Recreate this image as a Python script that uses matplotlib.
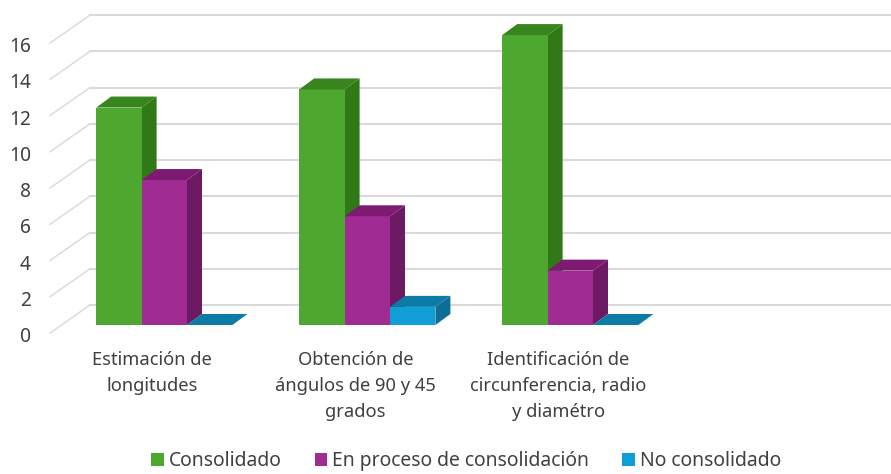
import numpy as np
import matplotlib
matplotlib.use('Agg')
import matplotlib.pyplot as plt
from matplotlib.patches import Polygon, Patch

# Datos
categorias = ['Estimación de\nlongitudes',
              'Obtención de\nángulos de 90 y 45\ngrados',
              'Identificación de\ncircunferencia, radio\ny diamétro']
series = ['Consolidado', 'En proceso de consolidación', 'No consolidado']
consolidado = [12, 13, 16]
en_proceso = [8, 6, 3]
no_consolidado = [0, 1, 0]
y_ticks = [0, 2, 4, 6, 8, 10, 12, 14, 16]

# colores: frente, lateral, tapa
colores = [('#4EA72E', '#2F7A17', '#38851E'),
           ('#A02B93', '#6C1A64', '#7E1A72'),
           ('#0F9ED5', '#0B6F96', '#0C7BA6')]

W, H = 891, 474
PX_X = 203.0    # pixeles por categoria
PX_Y = 18.12    # pixeles por unidad
CENTRO = 164.3  # pixel del centro del primer grupo
Y0 = 325.0      # pixel del cero al frente

plt.rcParams['font.family'] = 'Noto Sans'
fig = plt.figure(figsize=(W / 100, H / 100), dpi=100)
ax = fig.add_axes([50 / W, 1 - Y0 / H, (W - 50) / W, Y0 / H])
ax.set_xlim((50 - CENTRO) / PX_X, (W - CENTRO) / PX_X)
ax.set_ylim(0, Y0 / PX_Y)
for s in ax.spines.values():
    s.set_visible(False)

ancho = 45.4 / PX_X
# profundidad de las barras y de la pared
dx_bar, dy_bar = 15 / PX_X, 11 / PX_Y
x_pared = (90 - CENTRO) / PX_X
x_frente = (50 - CENTRO) / PX_X
dy_pared = 20 / PX_Y
dy_frente = -8 / PX_Y
dy_etiqueta = -12 / PX_Y

# rejilla de la pared del fondo
for v in y_ticks:
    ax.plot([x_pared, ax.get_xlim()[1]], [v + dy_pared, v + dy_pared],
            color='#D9D9D9', lw=1.5, zorder=1, clip_on=False)
    ax.plot([x_frente, x_pared], [v + dy_frente, v + dy_pared],
            color='#DCDCDC', lw=1.1, zorder=1, clip_on=False)

# barras con falso 3D
valores = [consolidado, en_proceso, no_consolidado]
orden = 2
for i in range(len(categorias)):
    for j, vals in enumerate(valores):
        v = vals[i]
        x0 = i + (j - 1.5) * ancho
        x1 = x0 + ancho
        frente, lateral, tapa = colores[j]
        if v > 0:
            ax.add_patch(Polygon([(x1, 0), (x1 + dx_bar, dy_bar), (x1 + dx_bar, v + dy_bar), (x1, v)],
                                 fc=lateral, ec='none', zorder=orden))
            ax.add_patch(Polygon([(x0, 0), (x1, 0), (x1, v), (x0, v)],
                                 fc=frente, ec='none', zorder=orden + 1))
        ax.add_patch(Polygon([(x0, v), (x1, v), (x1 + dx_bar, v + dy_bar), (x0 + dx_bar, v + dy_bar)],
                             fc=tapa, ec='none', zorder=orden + 1))
        orden += 2

# eje y: las etiquetas van a la altura del borde frontal de la pared
ax.set_yticks([])
for v in y_ticks:
    ax.text((31 - 50) / (W - 50), v + dy_etiqueta, str(v), fontsize=13.8, color='#404040',
            ha='right', va='center', transform=ax.get_yaxis_transform(), clip_on=False)

ax.set_xticks(np.arange(3) - 12 / PX_X)
ax.set_xticklabels(categorias, fontsize=13.2, color='#404040', linespacing=1.55)
ax.tick_params(axis='x', length=0, pad=19)

# leyenda
manijas = [Patch(fc=colores[k][0], ec='none', label=series[k]) for k in range(3)]
fig.legend(handles=manijas, loc='lower center', bbox_to_anchor=(466 / W, 3 / H), ncol=3, frameon=False,
           fontsize=13.9, labelcolor='#404040', handlelength=0.65, handleheight=0.65,
           handletextpad=0.25, columnspacing=1.72, borderaxespad=0, borderpad=0)

fig.savefig('out.png', dpi=100)
